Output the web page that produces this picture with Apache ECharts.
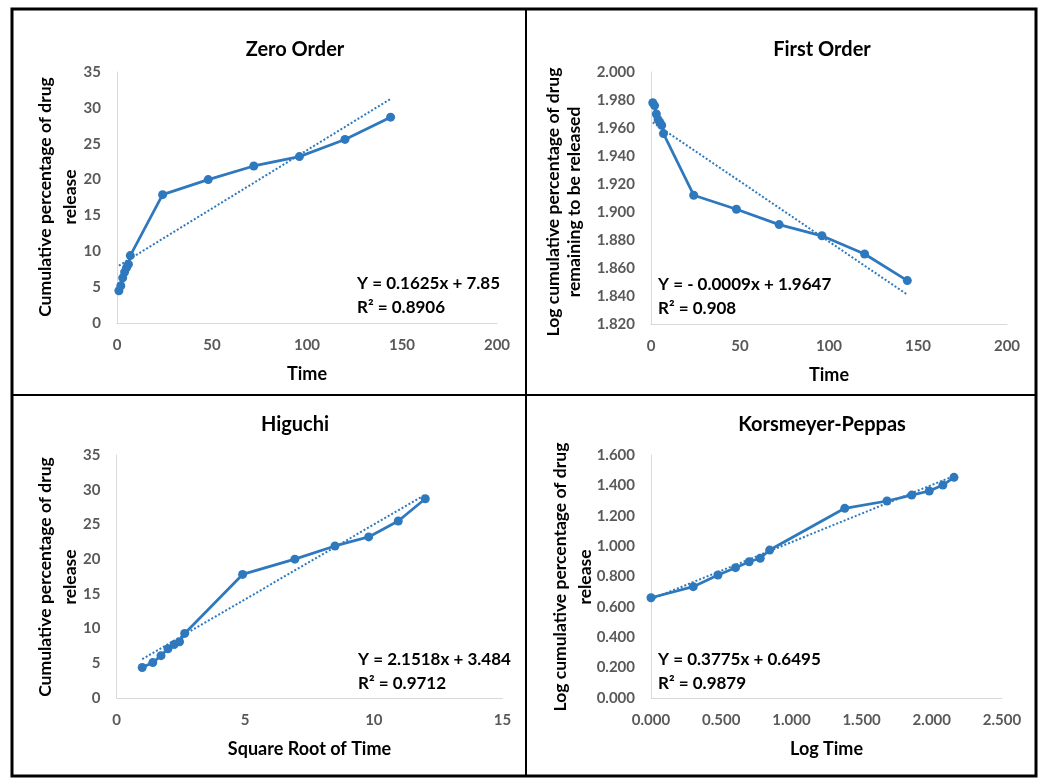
<!DOCTYPE html>
<html>
<head>
<meta charset="utf-8">
<script src="https://cdn.jsdelivr.net/npm/echarts@6/dist/echarts.min.js"></script>
<style>
html,body{margin:0;padding:0;background:#fff;}
#c{width:1043px;height:778px;}
</style>
</head>
<body>
<div id="c"></div>
<script>
// ---- data ----
var time = [1, 2, 3, 4, 5, 6, 7, 24, 48, 72, 96, 120, 144];
var cumRelease = [4.5, 5.2, 6.3, 7.1, 7.7, 8.2, 9.4, 17.9, 20.0, 21.9, 23.2, 25.6, 28.7];
var logRemaining = [1.978, 1.976, 1.970, 1.966, 1.964, 1.962, 1.956, 1.912, 1.902, 1.891, 1.883, 1.870, 1.851];
var sqrtTime = [1.0, 1.41, 1.73, 2.0, 2.24, 2.45, 2.65, 4.9, 6.93, 8.49, 9.8, 10.95, 12.0];
var higuchiRelease = [4.4, 5.1, 6.1, 7.1, 7.7, 8.1, 9.3, 17.8, 20.0, 21.9, 23.2, 25.5, 28.7];
var logTime = [0, 0.301, 0.477, 0.602, 0.699, 0.778, 0.845, 1.380, 1.681, 1.857, 1.982, 2.079, 2.158];
var logRelease = [0.660, 0.733, 0.810, 0.858, 0.897, 0.920, 0.974, 1.249, 1.297, 1.336, 1.363, 1.402, 1.453];

// trend line end points
var trendZero = [[1, 8.0], [144, 31.25]];
var trendFirst = [[1, 1.964], [144, 1.841]];
var trendHiguchi = [[1, 5.6], [12, 29.3]];
var trendKP = [[0, 0.65], [2.158, 1.462]];

var titles = ['Zero Order', 'First Order', 'Higuchi', 'Korsmeyer-Peppas'];
var xNames = ['Time', 'Time', 'Square Root of Time', 'Log Time'];
var yNames = [
  ['Cumulative percentage of drug', 'release'],
  ['Log cumulative percentage of drug', 'remaining to be released'],
  ['Cumulative percentage of drug', 'release'],
  ['Log cumulative percentage of drug', 'release']
];
var equations = [
  ['Y = 0.1625x + 7.85', 'R\u00B2 = 0.8906'],
  ['Y = - 0.0009x + 1.9647', 'R\u00B2 = 0.908'],
  ['Y = 2.1518x + 3.484', 'R\u00B2 = 0.9712'],
  ['Y = 0.3775x + 0.6495', 'R\u00B2 = 0.9879']
];

// ---- chart ----
var FONT = 'Lato, "Open Sans", sans-serif';
var BLUE = '#2E78BE';
var chart = echarts.init(document.getElementById('c'), null, {renderer: 'canvas'});

function pairs(xs, ys) { return xs.map(function (x, i) { return [x, ys[i]]; }); }

var grids = [
  {left: 117, top: 72, width: 380, height: 251},
  {left: 651, top: 72, width: 356, height: 252},
  {left: 116.5, top: 455, width: 386, height: 243},
  {left: 651, top: 455, width: 351, height: 243}
];
var xRanges = [[0, 200, 50, 0], [0, 200, 50, 0], [0, 15, 5, 0], [0, 2.5, 0.5, 3]];
var yRanges = [[0, 35, 5, 0], [1.82, 2.0, 0.02, 3], [0, 35, 5, 0], [0, 1.6, 0.2, 3]];

function axisBase(r) {
  return {
    type: 'value', min: r[0], max: r[1], interval: r[2],
    splitLine: {show: false},
    axisTick: {show: false},
    axisLine: {show: true, lineStyle: {color: '#d9d9d9', width: 1}},
    axisLabel: {
      color: '#595959', fontSize: 15, fontWeight: 'bold', fontFamily: FONT,
      formatter: function (v) { return r[3] ? Number(v).toFixed(r[3]) : String(Math.round(v)); }
    }
  };
}

var xAxes = xRanges.map(function (r, i) {
  var a = axisBase(r);
  a.gridIndex = i;
  a.axisLabel.margin = 15;
  a.name = xNames[i];
  a.nameLocation = 'middle';
  a.nameGap = 42;
  a.nameTextStyle = {color: '#000', fontSize: 18, fontWeight: 'bold', fontFamily: FONT};
  return a;
});
var yAxes = yRanges.map(function (r, i) {
  var a = axisBase(r);
  a.gridIndex = i;
  a.axisLabel.margin = 16;
  return a;
});

var dataSets = [
  [pairs(time, cumRelease), trendZero],
  [pairs(time, logRemaining), trendFirst],
  [pairs(sqrtTime, higuchiRelease), trendHiguchi],
  [pairs(logTime, logRelease), trendKP]
];
var series = [];
dataSets.forEach(function (d, i) {
  series.push({
    type: 'line', xAxisIndex: i, yAxisIndex: i, data: d[1],
    symbol: 'none', silent: true, z: 2,
    lineStyle: {color: BLUE, width: 2, type: [2, 2]}
  });
  series.push({
    type: 'line', xAxisIndex: i, yAxisIndex: i, data: d[0],
    symbol: 'circle', symbolSize: 9, z: 3,
    itemStyle: {color: BLUE},
    lineStyle: {color: BLUE, width: 2.75}
  });
});

var graphic = [];
// frame
graphic.push({type: 'rect', shape: {x: 12, y: 9, width: 1024, height: 767}, style: {fill: 'none', stroke: '#000', lineWidth: 3}, z: 10});
graphic.push({type: 'line', shape: {x1: 526, y1: 9, x2: 526, y2: 776}, style: {stroke: '#000', lineWidth: 2}, z: 10});
graphic.push({type: 'line', shape: {x1: 12, y1: 395, x2: 1036, y2: 395}, style: {stroke: '#000', lineWidth: 2}, z: 10});

var titlePos = [[295, 50], [822, 50], [295, 425], [822, 425]];
titles.forEach(function (t, i) {
  graphic.push({type: 'text', x: titlePos[i][0], y: titlePos[i][1],
    style: {text: t, fill: '#000', font: 'bold 20px ' + FONT, align: 'center', verticalAlign: 'middle'}});
});

var yNamePos = [
  [[45, 70], 197], [[553, 574], 202], [[45, 70], 577], [[560, 585], 577]
];
yNames.forEach(function (lines, i) {
  lines.forEach(function (ln, k) {
    graphic.push({type: 'text', x: yNamePos[i][0][k], y: yNamePos[i][1], rotation: Math.PI / 2,
      style: {text: ln, fill: '#000', font: 'bold 17.5px ' + FONT, align: 'center', verticalAlign: 'middle'}});
  });
});

var eqPos = [[357, 284], [658, 285], [358, 660], [658, 660]];
equations.forEach(function (lines, i) {
  lines.forEach(function (ln, k) {
    graphic.push({type: 'text', x: eqPos[i][0], y: eqPos[i][1] + k * 24,
      style: {text: ln, fill: '#000', font: 'bold 17px ' + FONT, align: 'left', verticalAlign: 'middle'}});
  });
});

chart.setOption({
  animation: false,
  backgroundColor: '#fff',
  grid: grids,
  xAxis: xAxes,
  yAxis: yAxes,
  series: series,
  graphic: graphic
});
</script>
</body>
</html>
